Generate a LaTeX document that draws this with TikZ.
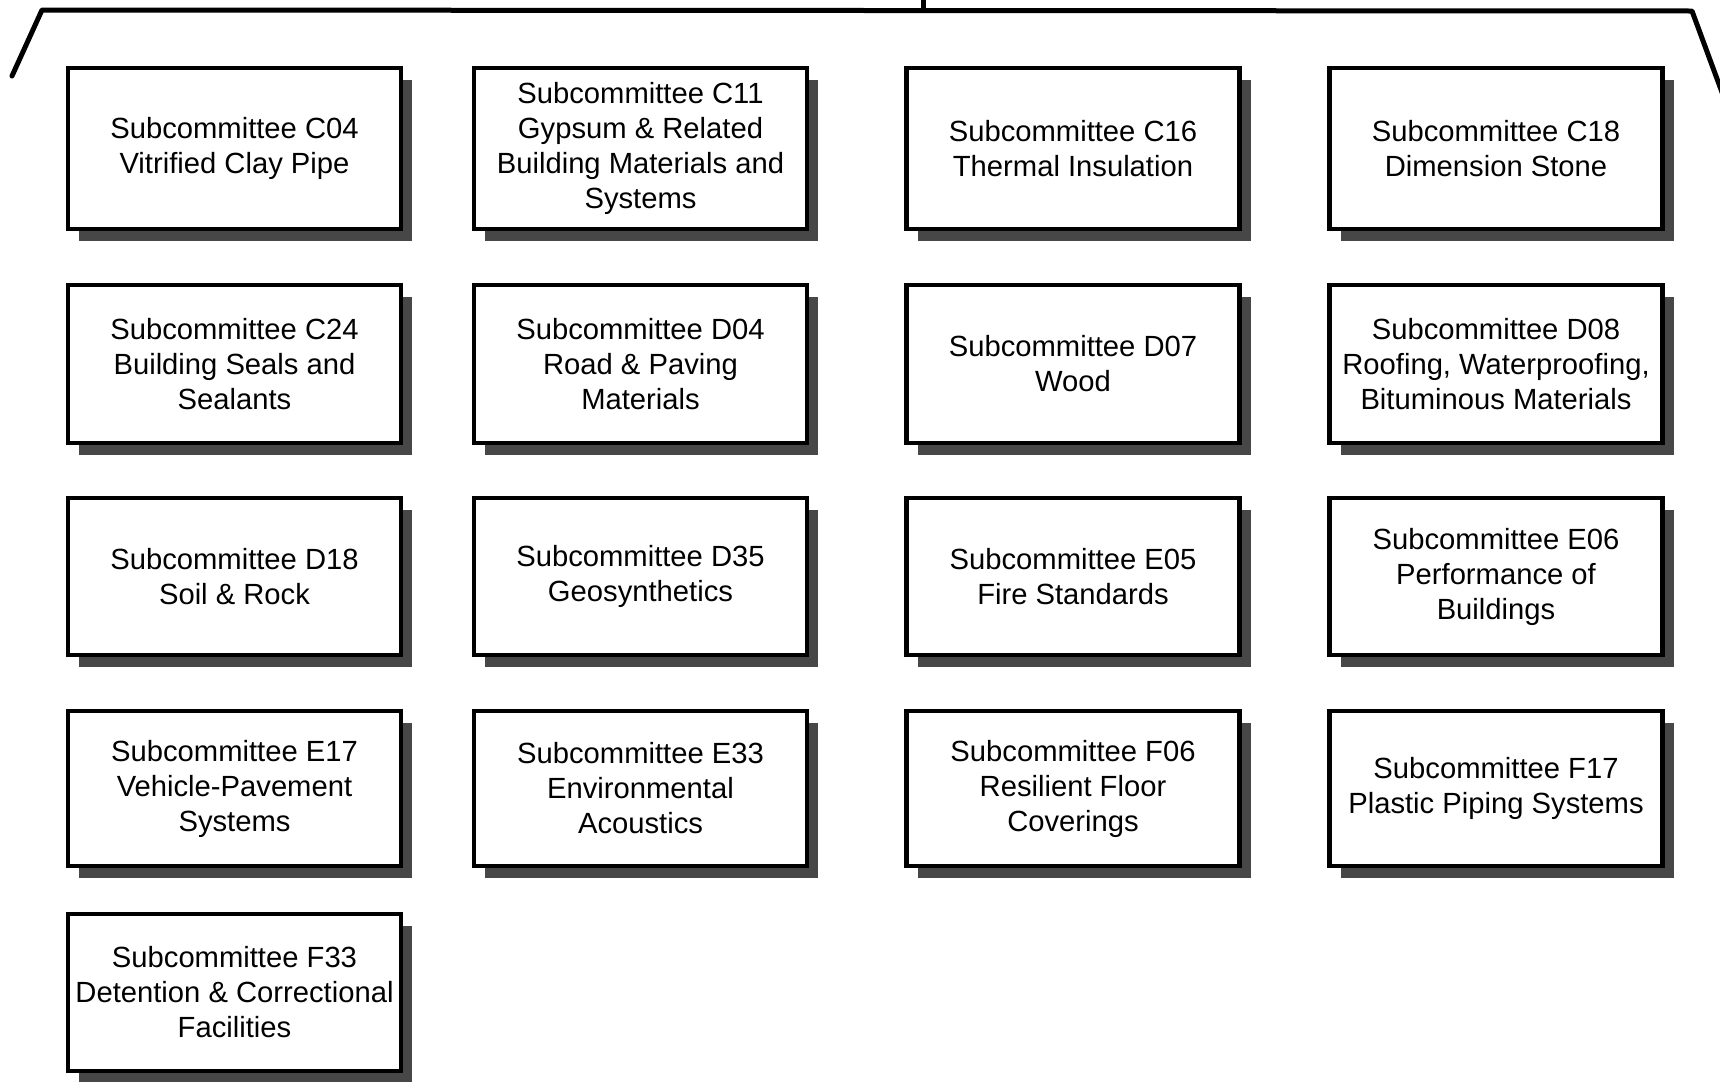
\documentclass[tikz,border=0pt]{standalone}
\usepackage{fontspec}
\setmainfont{Liberation Sans}
\usetikzlibrary{shadows}
\tikzset{
  sbox/.style={draw=black, line width=2.2pt, fill=white, align=center,
    minimum width=166.5pt, inner sep=2pt,
    font=\fontsize{14.6}{17.5}\selectfont,
    drop shadow={shadow xshift=5.5pt, shadow yshift=-6pt, fill=black!72, opacity=1}},
  bracket/.style={line width=2.5pt, line cap=round, line join=round}
}
\begin{document}
\begin{tikzpicture}[x=0.5pt,y=-0.5pt]
\useasboundingbox (0,0) rectangle (1720,1082);
% bracket
\coordinate (ltip) at (12,76);
\coordinate (lcorner) at (42,10);
\coordinate (rcorner) at (1692,11);
\coordinate (rtip) at (1723,95);
\coordinate (stemtop) at (923,-4);
\coordinate (stembot) at (923,11);
\draw[bracket] (ltip) -- (lcorner) -- (rcorner) -- (rtip);
\draw[bracket, line cap=butt] (stemtop) -- (stembot);
% row 1
\node[sbox, minimum height=80.5pt] (c04) at (234.5,148.5) {Subcommittee C04\\Vitrified Clay Pipe};
\node[sbox, minimum height=80.5pt] (c11) at (640.5,148.5) {Subcommittee C11\\Gypsum \& Related\\Building Materials and\\Systems};
\node[sbox, minimum height=80.5pt] (c16) at (1073,148.5) {Subcommittee C16\\Thermal Insulation};
\node[sbox, minimum height=80.5pt] (c18) at (1496,148.5) {Subcommittee C18\\Dimension Stone};
% row 2
\node[sbox, minimum height=79pt] (c24) at (234.5,364) {Subcommittee C24\\Building Seals and\\Sealants};
\node[sbox, minimum height=79pt] (d04) at (640.5,364) {Subcommittee D04\\Road \& Paving\\Materials};
\node[sbox, minimum height=79pt] (d07) at (1073,364) {Subcommittee D07\\Wood};
\node[sbox, minimum height=79pt] (d08) at (1496,364) {Subcommittee D08\\Roofing, Waterproofing,\\Bituminous Materials};
% row 3
\node[sbox, minimum height=78.5pt] (d18) at (234.5,576.5) {Subcommittee D18\\Soil \& Rock};
\node[sbox, minimum height=78.5pt] (d35) at (640.5,576.5) {Subcommittee D35\\Geosynthetics};
\node[sbox, minimum height=78.5pt] (e05) at (1073,576.5) {Subcommittee E05\\Fire Standards};
\node[sbox, minimum height=78.5pt] (e06) at (1496,576.5) {Subcommittee E06\\Performance of\\Buildings};
% row 4
\node[sbox, minimum height=77.5pt] (e17) at (234.5,788.5) {Subcommittee E17\\Vehicle-Pavement\\Systems};
\node[sbox, minimum height=77.5pt] (e33) at (640.5,788.5) {Subcommittee E33\\Environmental\\Acoustics};
\node[sbox, minimum height=77.5pt] (f06) at (1073,788.5) {Subcommittee F06\\Resilient Floor\\Coverings};
\node[sbox, minimum height=77.5pt] (f17) at (1496,788.5) {Subcommittee F17\\Plastic Piping Systems};
% row 5
\node[sbox, minimum height=78.5pt] (f33) at (234.5,992.5) {Subcommittee F33\\Detention \& Correctional\\Facilities};
\end{tikzpicture}
\end{document}
